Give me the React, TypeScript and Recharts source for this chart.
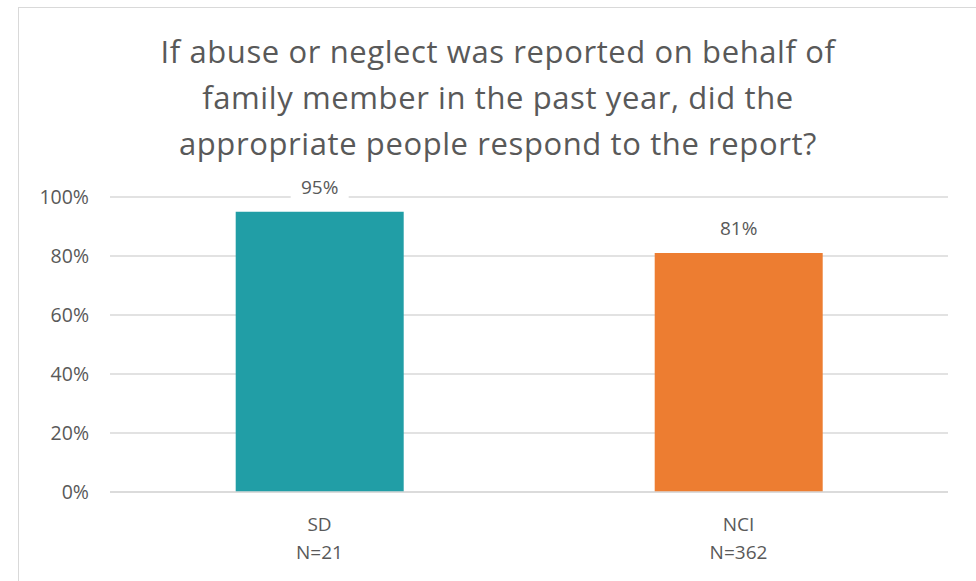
import { BarChart, Bar, XAxis, YAxis, CartesianGrid, Cell, LabelList } from 'recharts'

const groups = ['SD', 'NCI']
const sampleSizes = ['N=21', 'N=362']
const shares = [0.95, 0.81]
const barColors = ['#219EA6', '#ED7D31']
const yTicks = [0, 0.2, 0.4, 0.6, 0.8, 1]
const titleLines = [
	'If abuse or neglect was reported on behalf of',
	'family member in the past year, did the',
	'appropriate people respond to the report?',
]

const data = groups.map((g, i) => ({ group: g, n: sampleSizes[i], share: shares[i] }))

const FONT = '"Open Sans", sans-serif'
const TEXT = '#595959'

const pct = (v: number) => `${Math.round(v * 100)}%`

function GroupTick(props: any) {
	const { x, y, payload, index } = props
	return (
		<g>
			<text x={x} y={y + 31} textAnchor='middle' fill={TEXT} fontSize={19} fontFamily={FONT}>
				{payload.value}
			</text>
			<text x={x} y={y + 59} textAnchor='middle' fill={TEXT} fontSize={19} fontFamily={FONT}>
				{sampleSizes[index]}
			</text>
		</g>
	)
}

function ValueLabel(props: any) {
	const { x, y, width, value } = props
	const cx = x + width / 2
	const cy = y - 25
	return (
		<g>
			<rect x={cx - 29} y={cy - 13} width={58} height={26} fill='#fff' />
			<text x={cx} y={cy + 7} textAnchor='middle' fill={TEXT} fontSize={19} fontFamily={FONT}>
				{pct(value)}
			</text>
		</g>
	)
}

export default function App() {
	return (
		<div
			style={{
				position: 'absolute',
				left: 0,
				top: 0,
				width: 976,
				height: 581,
				background: '#fff',
				overflow: 'hidden',
			}}
		>
			<div
				style={{
					position: 'absolute',
					left: 18,
					top: 7,
					width: 1000,
					height: 600,
					border: '1.5px solid #d9d9d9',
				}}
			/>
			<div
				style={{
					position: 'absolute',
					left: 0,
					width: 996,
					top: 28,
					textAlign: 'center',
					fontFamily: FONT,
					fontSize: 31,
					letterSpacing: 0.6,
					lineHeight: '46px',
					color: TEXT,
				}}
			>
				{titleLines.map((l) => (
					<div key={l}>{l}</div>
				))}
			</div>
			<div style={{ position: 'absolute', left: 0, top: 0 }}>
				<BarChart
					width={976}
					height={581}
					data={data}
					margin={{ top: 197, right: 28, bottom: 0, left: 0 }}
					barCategoryGap='30%'
				>
					<CartesianGrid vertical={false} stroke='#d9d9d9' strokeWidth={1.5} />
					<XAxis
						dataKey='group'
						axisLine={{ stroke: '#d9d9d9', strokeWidth: 1.5 }}
						tickLine={false}
						tick={<GroupTick />}
						interval={0}
						height={89}
					/>
					<YAxis
						domain={[0, 1]}
						ticks={yTicks}
						tickFormatter={pct}
						axisLine={false}
						tickLine={false}
						width={110}
						tick={{ fill: TEXT, fontSize: 19.5, fontFamily: FONT, dx: -13 }}
					/>
					<Bar dataKey='share' isAnimationActive={false}>
						{data.map((d, i) => (
							<Cell key={d.group} fill={barColors[i]} />
						))}
						<LabelList dataKey='share' content={<ValueLabel />} />
					</Bar>
				</BarChart>
			</div>
		</div>
	)
}
